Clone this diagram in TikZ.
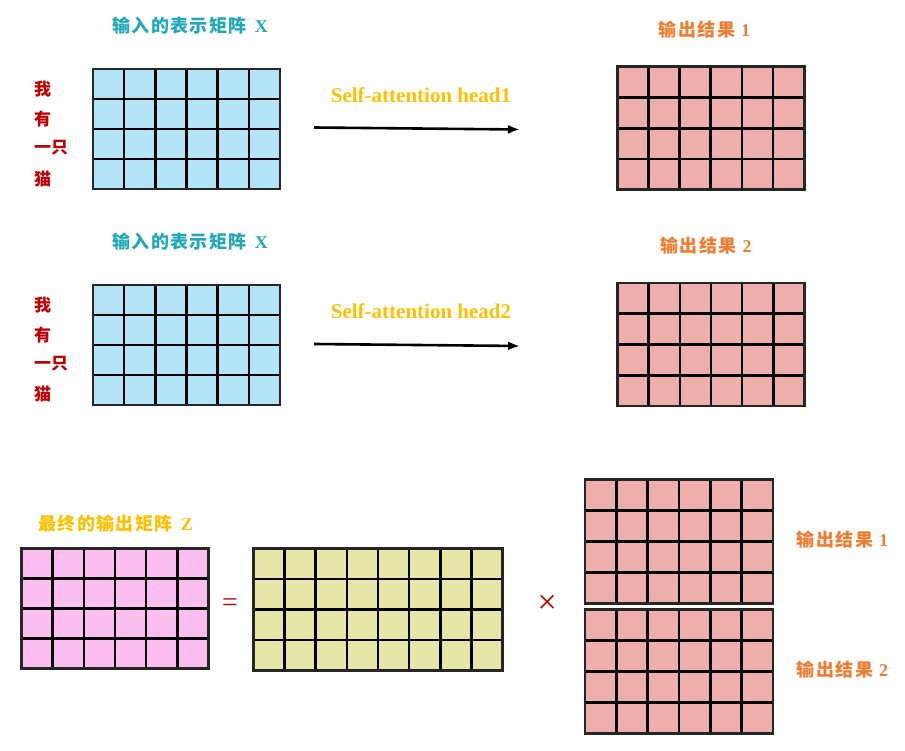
\documentclass[tikz,border=0pt]{standalone}
\usepackage{fontspec}
\setmainfont{Liberation Serif}
\newfontfamily\cjk[LetterSpace=8]{Noto Sans CJK SC}
\newfontfamily\cjkword{Noto Sans CJK SC}
\usetikzlibrary{arrows.meta,calc}

\definecolor{tealtxt}{RGB}{30,168,185}
\definecolor{orangetxt}{RGB}{237,125,49}
\definecolor{goldtxt}{RGB}{255,192,0}
\definecolor{redtxt}{RGB}{192,0,0}
\definecolor{xblue}{RGB}{180,228,248}
\definecolor{outpink}{RGB}{238,174,172}
\definecolor{zpink}{RGB}{252,190,240}
\definecolor{wyellow}{RGB}{230,230,166}

\tikzset{
  cells/.style 2 args={draw=black!85, line width=2.6pt, fill=#2, inner sep=0pt, outer sep=0pt,
    path picture={
      \foreach \k in {1,...,#1}
        \draw[black, line width=2.6pt]
          ($(path picture bounding box.north west)!\k/#1!(path picture bounding box.north east)$) --
          ($(path picture bounding box.south west)!\k/#1!(path picture bounding box.south east)$);
      \foreach \k in {1,2,3}
        \draw[black, line width=2.6pt]
          ($(path picture bounding box.north west)!\k/4!(path picture bounding box.south west)$) --
          ($(path picture bounding box.north east)!\k/4!(path picture bounding box.south east)$);
    }},
  cjklabel/.style={font=\fontsize{18}{20}\selectfont\bfseries, inner sep=0pt},
  wordlabel/.style={font=\cjkword\fontsize{17}{19}\selectfont\bfseries, text=redtxt, anchor=west, inner sep=0pt},
  headlabel/.style={font=\fontsize{21}{23}\selectfont\bfseries, text=goldtxt, inner sep=0pt},
  headarrow/.style={-{Latex[length=12pt,width=9pt]}, line width=2.6pt, black}
}

\begin{document}
\begin{tikzpicture}[x=1pt,y=-1pt]
  \useasboundingbox (0,0) rectangle (905,751);

  % first head
  \node[cjklabel, text=tealtxt] (titlex1) at (190,26) {{\cjk 输入的表示矩阵}\hspace{8pt}X};
  \node[cells={6}{xblue}, minimum width=187, minimum height=120] (inx1) at (186.5,129) {};
  \node[wordlabel] (wa1) at (34,89) {我};
  \node[wordlabel] (wb1) at (34,119) {有};
  \node[wordlabel] (wc1) at (34,148) {一只};
  \node[wordlabel] (wd1) at (34,179) {猫};
  \node[headlabel] (head1) at (421,95) {Self-attention head1};
  \coordinate (a1s) at (314,127.5);
  \coordinate (a1e) at (520,129.5);
  \draw[headarrow] (a1s) -- (a1e);
  \node[cjklabel, text=orangetxt] (titleo1) at (704.5,30) {{\cjk 输出结果}\hspace{6pt}1};
  \node[cells={6}{outpink}, minimum width=187, minimum height=123] (out1) at (710.7,128.3) {};

  % second head
  \node[cjklabel, text=tealtxt] (titlex2) at (190,242) {{\cjk 输入的表示矩阵}\hspace{8pt}X};
  \node[cells={6}{xblue}, minimum width=187, minimum height=120] (inx2) at (186.5,345) {};
  \node[wordlabel] (wa2) at (34,305) {我};
  \node[wordlabel] (wb2) at (34,335) {有};
  \node[wordlabel] (wc2) at (34,364) {一只};
  \node[wordlabel] (wd2) at (34,394) {猫};
  \node[headlabel] (head2) at (421,311) {Self-attention head2};
  \coordinate (a2s) at (314,344);
  \coordinate (a2e) at (520,346);
  \draw[headarrow] (a2s) -- (a2e);
  \node[cjklabel, text=orangetxt] (titleo2) at (706,246) {{\cjk 输出结果}\hspace{6pt}2};
  \node[cells={6}{outpink}, minimum width=187, minimum height=123] (out2) at (711,344.5) {};

  % concatenation times W^O
  \node[cjklabel, text=goldtxt] (titlez) at (115.5,523.5) {{\cjk 最终的输出矩阵}\hspace{8pt}Z};
  \node[cells={6}{zpink}, minimum width=187, minimum height=120] (zmat) at (115,608.3) {};
  \node[font=\fontsize{28}{30}\selectfont, text=redtxt, inner sep=0pt] (eq) at (230,605) {=};
  \node[cells={8}{wyellow}, minimum width=249, minimum height=122] (wmat) at (378,609.5) {};
  \node[font=\fontsize{34}{36}\selectfont, text=redtxt, inner sep=0pt] (times) at (547.3,604) {×};
  \node[cells={6}{outpink}, minimum width=188, minimum height=124] (cat1) at (679,541.3) {};
  \node[cells={6}{outpink}, minimum width=188, minimum height=124] (cat2) at (679,671.3) {};
  \node[cjklabel, text=orangetxt] (titlec1) at (842.5,540) {{\cjk 输出结果}\hspace{6pt}1};
  \node[cjklabel, text=orangetxt] (titlec2) at (842.5,669.3) {{\cjk 输出结果}\hspace{6pt}2};
\end{tikzpicture}
\end{document}
